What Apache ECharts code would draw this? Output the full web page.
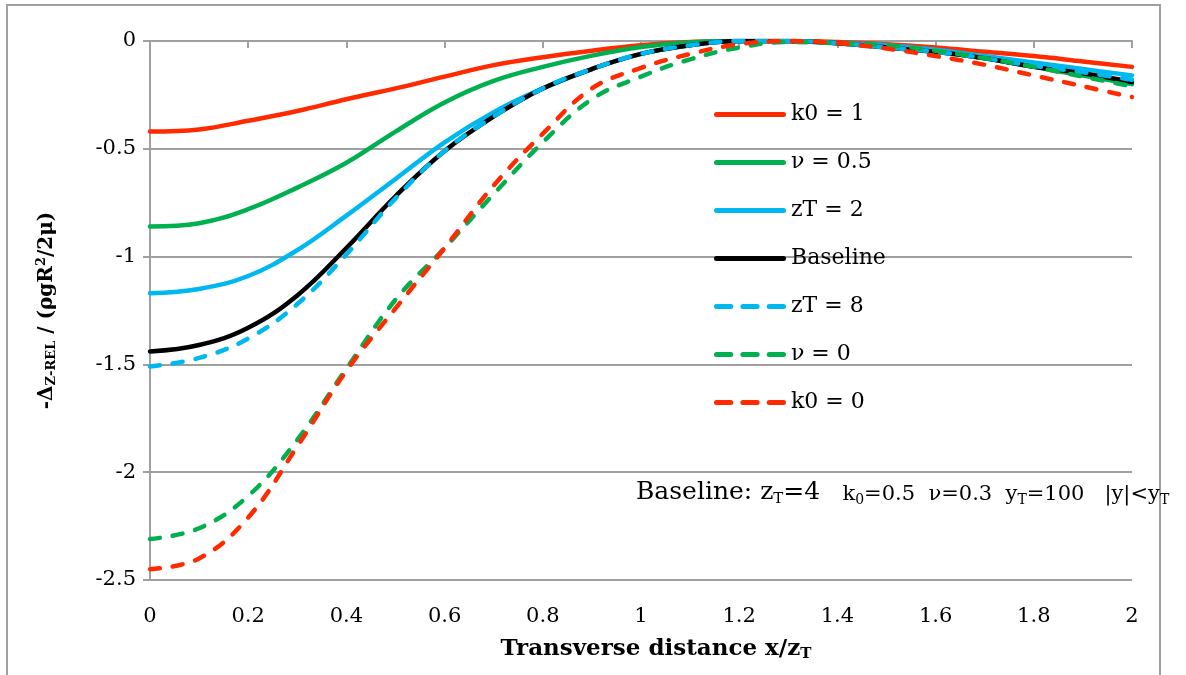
<!DOCTYPE html>
<html>
<head>
<meta charset="utf-8">
<script src="https://cdn.jsdelivr.net/npm/echarts@6/dist/echarts.min.js"></script>
<style>html,body{margin:0;padding:0;background:#fff;}#c{width:1186px;height:675px;}</style>
</head>
<body>
<div id="c"></div>
<script>
const xs = [0,0.1,0.2,0.3,0.4,0.5,0.6,0.7,0.8,0.9,1.0,1.1,1.2,1.3,1.4,1.5,1.6,1.7,1.8,1.9,2.0];
const names = ['k0 = 1','ν = 0.5','zT = 2','Baseline','zT = 8','ν = 0','k0 = 0'];
const k0_1   = [-0.42,-0.41,-0.37,-0.325,-0.27,-0.22,-0.165,-0.112,-0.075,-0.045,-0.02,-0.005,0,0,-0.005,-0.015,-0.03,-0.05,-0.07,-0.095,-0.12];
const nu_05  = [-0.86,-0.845,-0.78,-0.68,-0.565,-0.42,-0.285,-0.185,-0.12,-0.068,-0.028,-0.006,0,0,-0.01,-0.03,-0.05,-0.08,-0.12,-0.16,-0.20];
const zT_2   = [-1.17,-1.15,-1.09,-0.97,-0.81,-0.64,-0.47,-0.33,-0.22,-0.13,-0.06,-0.02,0,0,-0.01,-0.02,-0.04,-0.07,-0.10,-0.13,-0.16];
const base   = [-1.44,-1.41,-1.33,-1.18,-0.96,-0.72,-0.51,-0.35,-0.22,-0.13,-0.06,-0.02,0,0,-0.01,-0.03,-0.05,-0.08,-0.12,-0.15,-0.19];
const zT_8   = [-1.51,-1.47,-1.38,-1.22,-0.99,-0.73,-0.51,-0.35,-0.22,-0.13,-0.06,-0.02,0,0,-0.01,-0.03,-0.05,-0.08,-0.115,-0.145,-0.18];
const nu_0   = [-2.31,-2.26,-2.11,-1.85,-1.52,-1.20,-0.96,-0.71,-0.47,-0.27,-0.165,-0.085,-0.03,-0.005,-0.01,-0.02,-0.045,-0.08,-0.12,-0.165,-0.21];
const k0_0   = [-2.45,-2.40,-2.21,-1.88,-1.53,-1.24,-0.96,-0.67,-0.43,-0.22,-0.125,-0.06,-0.015,0,-0.01,-0.035,-0.07,-0.11,-0.16,-0.21,-0.26];
const yTicks = [0,-0.5,-1,-1.5,-2,-2.5];

const seriesVals = [k0_1, nu_05, zT_2, base, zT_8, nu_0, k0_0];
const colors = ['#FF2A00','#00B050','#00B8F0','#000000','#00B8F0','#00B050','#FF2A00'];
const dashed = [false,false,false,false,true,true,true];
const FONT = 'DejaVu Serif';

const solidIcon = 'path://M2.5,0 h67 a2.5,2.5 0 0 1 0,5 h-67 a2.5,2.5 0 0 1 0,-5 Z';
const dashIcon = 'path://M2.5,0 h14 a2.5,2.5 0 0 1 0,5 h-14 a2.5,2.5 0 0 1 0,-5 Z ' +
                 'M28.5,0 h14 a2.5,2.5 0 0 1 0,5 h-14 a2.5,2.5 0 0 1 0,-5 Z ' +
                 'M54.5,0 h14 a2.5,2.5 0 0 1 0,5 h-14 a2.5,2.5 0 0 1 0,-5 Z';

const chart = echarts.init(document.getElementById('c'), null, {renderer:'canvas'});
const series = seriesVals.map((vals,i)=>({
  name: names[i],
  type: 'line',
  smooth: 0.4,
  symbol: 'none',
  data: xs.map((x,j)=>[x, vals[j]]),
  lineStyle: {color: colors[i], width: 4.5, type: dashed[i] ? [10,13] : 'solid', cap: 'round'},
  itemStyle: {color: colors[i]},
  z: 2 + i
}));

chart.setOption({
  animation: false,
  backgroundColor: '#fff',
  textStyle: {fontFamily: FONT},
  grid: {left: 150, right: 54, top: 41, bottom: 95},
  xAxis: {
    type: 'value', min: 0, max: 2, interval: 0.2,
    axisLine: {show: true, lineStyle: {color: '#A0A0A0', width: 2}},
    axisTick: {show: true, length: 7, lineStyle: {color: '#A0A0A0', width: 2}},
    axisLabel: {color: '#000', fontFamily: FONT, fontSize: 21, margin: 26},
    splitLine: {show: false},
    name: '{a|Transverse distance x/z}{s|T}',
    nameLocation: 'middle', nameGap: 57,
    nameTextStyle: {padding: [0,0,0,30], rich: {
      a: {fontFamily: FONT, fontWeight: 'bold', fontSize: 23, color: '#000'},
      s: {fontFamily: FONT, fontWeight: 'bold', fontSize: 15, color: '#000', verticalAlign: 'bottom', padding:[10,0,0,0]}
    }}
  },
  yAxis: {
    type: 'value', min: -2.5, max: 0, interval: 0.5,
    axisLine: {show: true, onZero: false, lineStyle: {color: '#A0A0A0', width: 2}},
    axisTick: {show: true, length: 7, lineStyle: {color: '#A0A0A0', width: 2}},
    axisLabel: {color: '#000', fontFamily: FONT, fontSize: 21, margin: 14,
      formatter: v => String(v)},
    splitLine: {show: true, lineStyle: {color: '#A0A0A0', width: 2}},
    name: '{a|-Δ}{s|Z-REL}{a| / (ρgR}{p|2}{a|/2μ)}',
    nameLocation: 'middle', nameGap: 92, nameRotate: 90,
    nameTextStyle: {rich: {
      a: {fontFamily: FONT, fontWeight: 'bold', fontSize: 20, color: '#000'},
      s: {fontFamily: FONT, fontWeight: 'bold', fontSize: 13, color: '#000', verticalAlign: 'bottom', padding:[10,0,0,0]},
      p: {fontFamily: FONT, fontWeight: 'bold', fontSize: 13, color: '#000', verticalAlign: 'top', padding:[0,0,10,0]}
    }}
  },
  legend: {
    orient: 'vertical', left: 709, top: 98,
    itemWidth: 72, itemHeight: 5, itemGap: 25, symbolKeepAspect: false,
    data: names.map((n,i)=>({name: n, icon: dashed[i] ? dashIcon : solidIcon, itemStyle: {color: colors[i]}})),
    textStyle: {fontFamily: FONT, fontSize: 22, color: '#000', lineHeight: 23}
  },
  graphic: [
    {type: 'rect', shape: {x: 7, y: 5, width: 1153, height: 720}, style: {fill: 'none', stroke: '#A0A0A0', lineWidth: 2}, silent: true, z: 100},
    {type: 'text', left: 636, top: 480, z: 100, style: {
      text: '{b|Baseline: z}{bs|T}{b|=4}{g|     }{c|k}{cs|0}{c|=0.5  ν=0.3  y}{cs|T}{c|=100   |y|<y}{cs|T}',
      rich: {
        b: {fontFamily: FONT, fontSize: 25, fill: '#000', verticalAlign: 'bottom'},
        bs: {fontFamily: FONT, fontSize: 15, fill: '#000', verticalAlign: 'bottom', padding:[0,0,-2,0]},
        g: {fontFamily: FONT, fontSize: 14},
        c: {fontFamily: FONT, fontSize: 21, fill: '#000', verticalAlign: 'bottom'},
        cs: {fontFamily: FONT, fontSize: 14, fill: '#000', verticalAlign: 'bottom', padding:[0,0,-2,0]}
      }
    }}
  ],
  series: series
});
</script>
</body>
</html>
